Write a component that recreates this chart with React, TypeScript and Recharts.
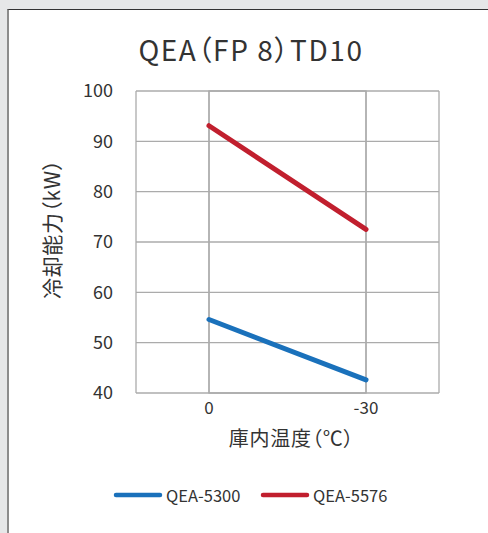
import React from 'react';
import { LineChart, Line, XAxis, YAxis, CartesianGrid, Legend, ReferenceArea, Label } from 'recharts';

const categories = ['0', '-30'];
const qea5300 = [54.6, 42.6];
const qea5576 = [93.1, 72.5];
const yTicks = [40, 50, 60, 70, 80, 90, 100];
const seriesNames = ['QEA-5300', 'QEA-5576'];
const seriesColors = ['#1a71bb', '#c11f2e'];
const title = 'QEA（FP 8）TD10';
const yTitle = '冷却能力（kW）';
const xTitle = '庫内温度（℃）';

const data = categories.map((c, i) => ({ t: c, a: qea5300[i], b: qea5576[i] }));

const FONT = '"Noto Sans CJK JP", "Noto Sans", sans-serif';
const TEXT = '#333333';

const LegendContent = (props: any) => {
  const payload = props.payload || [];
  return (
    <div style={{ display: 'flex', alignItems: 'center', height: 30, marginLeft: 113, fontFamily: FONT }}>
      {payload.map((p: any, i: number) => (
        <div key={i} style={{ display: 'flex', alignItems: 'center', marginRight: 20 }}>
          <svg width={50} height={8} style={{ display: 'block', flex: 'none' }}>
            <line x1={3} y1={4} x2={47} y2={4} stroke={p.color} strokeWidth={4.5} strokeLinecap="round" />
          </svg>
          <span style={{ fontSize: 16.5, color: TEXT, marginLeft: 3, width: 74, whiteSpace: 'nowrap', flex: 'none' }}>{p.value}</span>
        </div>
      ))}
    </div>
  );
};

export default function App() {
  return (
    <div style={{ position: 'fixed', left: 0, top: 0, width: 488, height: 533, background: '#e6e7e8', overflow: 'hidden' }}>
      <div style={{ position: 'absolute', left: 7, top: 9, right: 0, bottom: 0, background: '#fff', borderLeft: '2px solid #8c8c8c', borderTop: '1px solid #333' }} />
      <svg width={488} height={533} style={{ position: 'absolute', left: 0, top: 0 }}>
        <text x={251} y={61} textAnchor="middle" fontFamily={FONT} fontSize={28} fill={TEXT} letterSpacing={1.6} style={{ fontFeatureSettings: '"palt"' }}>{title}</text>
      </svg>
      <div style={{ position: 'absolute', left: 0, top: 0 }}>
        <LineChart width={488} height={533} data={data} margin={{ top: 91, right: 49, bottom: 23, left: 0 }}>
          <CartesianGrid stroke="#ababab" strokeWidth={1.3} />
          <ReferenceArea y1={40} y2={100} fill="none" stroke="#ababab" strokeWidth={1.3} ifOverflow="visible" />
          <XAxis
            dataKey="t"
            padding={{ left: 73, right: 73 }}
            tickLine={false}
            axisLine={false}
            tickSize={0}
            tickMargin={9}
            height={87}
            tick={{ fill: TEXT, fontSize: 17, fontFamily: FONT }}
          >
            <Label
              content={(p: any) => {
                const vb = p.viewBox || { x: 136, y: 393, width: 303 };
                const cx = vb.x + vb.width / 2 + 4;
                return (
                  <text x={cx} y={vb.y + 53} textAnchor="middle" fontFamily={FONT} fontSize={20} fill={TEXT} letterSpacing={0.8} style={{ fontFeatureSettings: '"palt"' }}>{xTitle}</text>
                );
              }}
            />
          </XAxis>
          <YAxis
            domain={[40, 100]}
            ticks={yTicks}
            tickLine={false}
            axisLine={false}
            tickSize={0}
            tickMargin={23}
            width={136}
            tick={{ fill: TEXT, fontSize: 18, fontFamily: FONT }}
          >
            <Label
              content={(p: any) => {
                const vb = p.viewBox || { x: 0, y: 91, height: 302 };
                const cx = 60;
                const cy = vb.y + vb.height / 2 - 13;
                return (
                  <text x={cx} y={cy} transform={`rotate(-90 ${cx} ${cy})`} textAnchor="middle" fontFamily={FONT} fontSize={21} fill={TEXT} letterSpacing={0.6} style={{ fontFeatureSettings: '"palt"' }}>{yTitle}</text>
                );
              }}
            />
          </YAxis>
          <Legend verticalAlign="bottom" content={<LegendContent />} />
          <Line type="linear" dataKey="a" name={seriesNames[0]} stroke={seriesColors[0]} strokeWidth={5} strokeLinecap="round" dot={false} activeDot={false} isAnimationActive={false} />
          <Line type="linear" dataKey="b" name={seriesNames[1]} stroke={seriesColors[1]} strokeWidth={5} strokeLinecap="round" dot={false} activeDot={false} isAnimationActive={false} />
        </LineChart>
      </div>
    </div>
  );
}
